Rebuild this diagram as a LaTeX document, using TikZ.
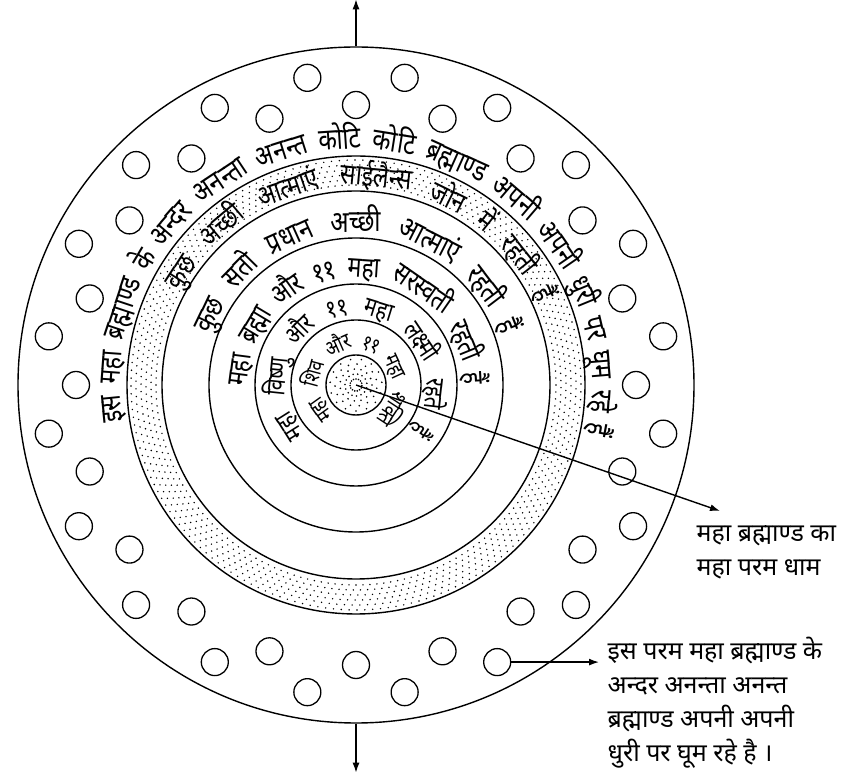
\documentclass[tikz,border=0pt]{standalone}
\usepackage{fontspec}
\newfontfamily\deva[Script=Devanagari]{Noto Sans}
\newfontfamily\devn[Script=Devanagari,FakeStretch=0.8]{Noto Sans}
\usetikzlibrary{arrows.meta,decorations.text,positioning}
% text set on a clockwise arc: radius, from, to, size, words
\newcommand{\arctext}[5]{%
  \path[decorate,decoration={text along path,text align=fit to path,
    text={|\devn\fontsize{#4}{#4}\selectfont|#5}}]
    (#2:#1) arc[start angle=#2,end angle=#3,radius=#1pt];}
\begin{document}
\begin{tikzpicture}[x=1pt,y=1pt,line width=1.4pt,>={Latex[length=10pt,width=7pt]},
  ring/.style={draw,circle,inner sep=0pt},
  ball/.style={draw,circle,inner sep=0pt,minimum size=27pt,line width=1.3pt},
  lbl/.style={font=\deva\fontsize{25}{34}\selectfont,align=left,inner sep=0pt}]
\useasboundingbox (0,0) rectangle (841,774);
\coordinate (ctr) at (356,389);
\node[ring,minimum size=676pt] (outer) at (ctr) {};
\node[ring,minimum size=458pt] (band) at (ctr) {};
\node[ring,minimum size=388pt] (sattva) at (ctr) {};
\node[ring,minimum size=294pt] (brahma) at (ctr) {};
\node[ring,minimum size=202pt] (vishnu) at (ctr) {};
\node[ring,minimum size=130pt] (shiva) at (ctr) {};
\node[ring,minimum size=60pt] (dham) at (ctr) {};
\begin{scope}[shift={(ctr)}]
\foreach \r in {200,205,...,225}
  \foreach \a in {0,2,...,358}
    \fill (\a+\r/4:\r) circle (0.8pt);
\foreach \r in {6,11,...,26}
  \foreach \a in {0,24,...,336}
    \fill (\a+3*\r:\r) circle (0.9pt);
\foreach \k in {0,...,19} {
  \node[ball] (ci\k) at (18*\k:280) {};
  \node[ball] (co\k) at (9+18*\k:311) {};
}
\arctext{236}{189}{-12}{30}{{इस} {महा} {ब्रह्माण्ड} {के} {अन्दर} {अनन्ता} {अनन्त} {कोटि} {कोटि} {ब्रह्माण्ड} {अपनी} {अपनी} {धुरी} {पर} {घूम} {रहे} {हैं}}
\arctext{199}{152}{24}{29}{{कुछ} {अच्छी} {आत्माएं} {साईलैन्स} {जोन} {में} {रहती} {हैं}}
\arctext{153}{161}{19}{30}{{कुछ} {सतो} {प्रधान} {अच्छी} {आत्माएं} {रहती} {हैं}}
\arctext{108}{181}{0}{29}{{महा} {ब्रह्मा} {और} {११} {महा} {सरस्वती} {रहती} {हैं}}
\arctext{70}{224}{-39}{26}{{महा} {विष्णु} {और} {११} {महा} {लक्ष्मी} {रहते} {हैं}}
\arctext{36}{235}{-62}{22}{{महा} {शिव} {और} {११} {महा} {शक्ति}}
\end{scope}
\node[lbl,anchor=north west] (lblA) at (696,249) {महा ब्रह्माण्ड का\\महा परम धाम};
\node[lbl,anchor=north west] (lblB) at (607,138) {इस परम महा ब्रह्माण्ड के\\अन्दर अनन्ता अनन्त\\ब्रह्माण्ड अपनी अपनी\\धुरी पर घूम रहे है ।};
\coordinate[above=47pt of outer.north] (topend);
\coordinate[below=49pt of outer.south] (botend);
\draw[->] (outer.north) -- (topend);
\draw[->] (outer.south) -- (botend);
\draw[->] (ctr) -- ([xshift=24pt,yshift=14pt]lblA.north west);
\draw[->,shorten >=8pt] (co16.east) -- (co16.east -| lblB.west);
\end{tikzpicture}
\end{document}
